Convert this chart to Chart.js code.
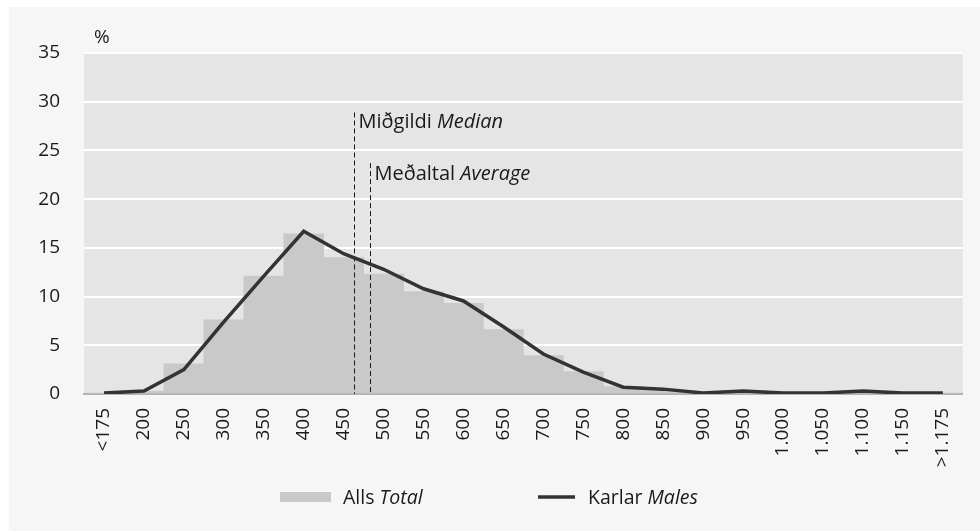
<!DOCTYPE html>
<html>
<head>
<meta charset="utf-8">
<script src="https://cdn.jsdelivr.net/npm/chart.js@4/dist/chart.umd.min.js"></script>
<style>
  html, body { margin: 0; padding: 0; background: #ffffff; }
  #wrap { position: absolute; left: 0; top: 0; width: 980px; height: 531px; overflow: hidden; }
  #bg { position: absolute; left: 9px; top: 7px; right: 0; bottom: 0; background: #f6f6f6; }
  canvas { position: absolute; left: 0; top: 0; }
</style>
</head>
<body>
<div id="wrap">
  <div id="bg"></div>
  <canvas id="c" width="980" height="531"></canvas>
</div>
<script>
// ---- Data ----
const categories = ['<175','200','250','300','350','400','450','500','550','600','650','700','750','800','850','900','950','1.000','1.050','1.100','1.150','>1.175'];
const totalValues = [0.1, 0.3, 3.1, 7.6, 12.1, 16.45, 14.0, 12.3, 10.5, 9.3, 6.6, 3.95, 2.3, 0.75, 0.4, 0.1, 0.2, 0.1, 0.1, 0.2, 0.1, 0.1];
const maleValues  = [0.1, 0.3, 2.5, 7.4, 12.1, 16.7, 14.4, 12.8, 10.8, 9.55, 6.9, 4.1, 2.25, 0.7, 0.5, 0.1, 0.3, 0.1, 0.1, 0.3, 0.1, 0.1];
const yTicks = [0, 5, 10, 15, 20, 25, 30, 35];
const medianValue = 462.5;
const averageValue = 482.5;
const seriesLabels = { total: ['Alls ', 'Total'], males: ['Karlar ', 'Males'] };
const refLabels = { median: ['Miðgildi ', 'Median'], average: ['Meðaltal ', 'Average'] };

const FONT = "'Open Sans', 'Noto Sans', sans-serif";
const BAR_COLOR = '#c8c9c8';
const LINE_COLOR = '#333333';

// convert an income value to a fractional category index (450 -> index 6, step 50)
function valueToIndex(v) { return 6 + (v - 450) / 50; }

function drawMixed(ctx, parts, x, y, size) {
  ctx.font = size + 'px ' + FONT;
  ctx.fillText(parts[0], x, y);
  const w = ctx.measureText(parts[0]).width;
  ctx.font = 'italic ' + size + 'px ' + FONT;
  ctx.fillText(parts[1], x + w, y);
}

const decorPlugin = {
  id: 'decor',
  beforeDraw(chart) {
    const { ctx, chartArea: a } = chart;
    ctx.save();
    ctx.fillStyle = '#e5e5e5';
    ctx.fillRect(a.left, a.top, a.right - a.left, a.bottom - a.top);
    ctx.restore();
  },
  afterDatasetDraw(chart, args) {
    if (args.index !== 0) return;
    const { ctx, scales: { x, y } } = chart;
    const lines = [
      { v: medianValue, top: 28.9, text: refLabels.median, ty: 27.3 },
      { v: averageValue, top: 23.7, text: refLabels.average, ty: 22.0 }
    ];
    ctx.save();
    lines.forEach(l => {
      const px = Math.round(x.getPixelForValue(valueToIndex(l.v))) + 0.5;
      ctx.strokeStyle = '#1a1a1a';
      ctx.lineWidth = 1;
      ctx.setLineDash([5, 3]);
      ctx.beginPath();
      ctx.moveTo(px, y.getPixelForValue(l.top));
      ctx.lineTo(px, y.getPixelForValue(0));
      ctx.stroke();
      ctx.setLineDash([]);
      ctx.fillStyle = '#1a1a1a';
      ctx.textBaseline = 'alphabetic';
      ctx.textAlign = 'left';
      drawMixed(ctx, l.text, px + 4, y.getPixelForValue(l.ty), 20);
    });
    ctx.restore();
  },
  afterDraw(chart) {
    const { ctx } = chart;
    ctx.save();
    ctx.fillStyle = '#1a1a1a';
    ctx.textAlign = 'left';
    ctx.textBaseline = 'alphabetic';
    ctx.font = '19px ' + FONT;
    ctx.fillText('%', 94, 43);
    // legend
    ctx.fillStyle = BAR_COLOR;
    ctx.fillRect(280, 492, 51, 10);
    ctx.fillStyle = '#1a1a1a';
    drawMixed(ctx, seriesLabels.total, 343, 504, 19.5);
    ctx.strokeStyle = LINE_COLOR;
    ctx.lineWidth = 3.5;
    ctx.beginPath();
    ctx.moveTo(538, 497);
    ctx.lineTo(575, 497);
    ctx.stroke();
    drawMixed(ctx, seriesLabels.males, 588, 504, 19.5);
    ctx.restore();
  }
};

new Chart(document.getElementById('c'), {
  data: {
    labels: categories,
    datasets: [
      {
        type: 'bar',
        label: 'Alls Total',
        data: totalValues,
        backgroundColor: BAR_COLOR,
        borderWidth: 0,
        barPercentage: 1.0,
        categoryPercentage: 1.0,
        order: 2
      },
      {
        type: 'line',
        label: 'Karlar Males',
        data: maleValues,
        borderColor: LINE_COLOR,
        borderWidth: 3.5,
        pointRadius: 0,
        tension: 0,
        fill: false,
        order: 1
      }
    ]
  },
  options: {
    responsive: false,
    devicePixelRatio: 1,
    animation: false,
    layout: { padding: { top: 53, right: 16, bottom: 57, left: 0 } },
    plugins: {
      legend: { display: false },
      tooltip: { enabled: false }
    },
    scales: {
      x: {
        offset: true,
        grid: { display: false, drawTicks: false },
        border: { display: true, color: '#b3b3b3', width: 2 },
        ticks: {
          minRotation: 90,
          maxRotation: 90,
          autoSkip: false,
          padding: 14,
          color: '#1a1a1a',
          font: { family: FONT, size: 19 }
        },
        afterFit(scale) { scale.height = 80; }
      },
      y: {
        min: 0,
        max: 35,
        afterBuildTicks(scale) { scale.ticks = yTicks.map(v => ({ value: v })); },
        grid: {
          drawTicks: false,
          color: ctx => (ctx.tick && ctx.tick.value === 0) ? 'rgba(0,0,0,0)' : '#ffffff',
          lineWidth: 2
        },
        border: { display: false },
        ticks: {
          padding: 24,
          color: '#1a1a1a',
          font: { family: FONT, size: 19 }
        },
        afterFit(scale) { scale.width = 84; }
      }
    }
  },
  plugins: [decorPlugin]
});
</script>
</body>
</html>
